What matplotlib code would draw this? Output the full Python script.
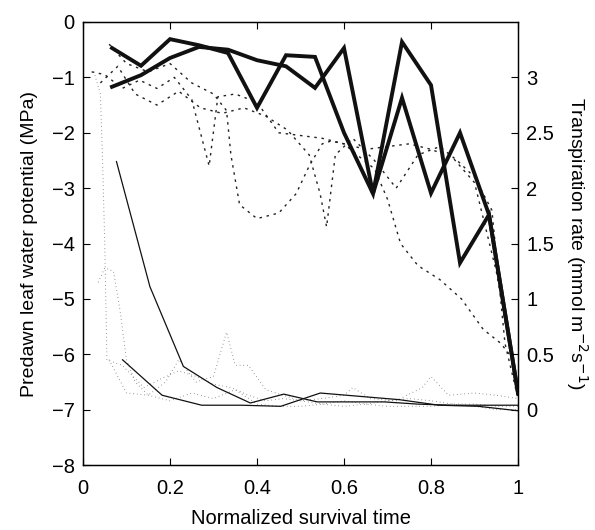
import matplotlib
matplotlib.use("Agg")
import matplotlib.pyplot as plt
import numpy as np

plt.rcParams["font.family"] = ["Liberation Sans", "DejaVu Sans"]

# ── Dados: potencial hídrico (MPa), linhas grossas ─────────────
x_psi = [1/15, 2/15, 3/15, 4/15, 5/15, 6/15, 7/15, 8/15, 9/15, 10/15,
         11/15, 12/15, 13/15, 14/15, 1.0]
psi_a = [-0.47, -0.79, -0.31, -0.42, -0.56, -1.55, -0.6, -0.63, -2.0, -3.1,
         -0.36, -1.14, -4.35, -3.48, -6.7]
psi_b = [-1.17, -0.96, -0.65, -0.45, -0.5, -0.69, -0.8, -1.19, -0.47, -3.1,
         -1.37, -3.09, -2.0, -3.48, -6.7]

# limites (tracejados) do potencial hídrico
x_lim1 = [0.02, 0.05, 0.09, 0.13, 0.17, 0.21, 0.25, 0.27, 0.29, 0.31, 0.35,
          0.40, 0.45, 0.50, 0.55, 0.60, 0.65, 0.70, 0.75, 0.80, 0.85, 0.90,
          0.95, 1.0]
lim1 = [-0.9, -0.95, -1.2, -1.05, -1.2, -1.0, -1.4, -2.0, -2.6, -1.35, -1.3,
        -1.45, -2.0, -2.05, -2.1, -2.2, -2.3, -2.25, -2.2, -2.3, -2.45, -2.9,
        -4.5, -6.7]
x_lim2 = [0.06, 0.10, 0.15, 0.20, 0.25, 0.30, 0.33, 0.34, 0.36, 0.40, 0.45,
          0.49, 0.52, 0.55, 0.57, 0.60, 0.63, 0.67, 0.70, 0.73, 0.77, 0.82,
          0.87, 0.92, 0.96, 0.98]
lim2 = [-0.4, -0.75, -0.9, -0.75, -1.1, -1.3, -1.6, -2.4, -3.3, -3.55, -3.45,
        -3.1, -2.6, -2.2, -2.15, -2.2, -2.4, -2.65, -3.2, -4.0, -4.4, -4.65,
        -5.0, -5.55, -5.8, -6.0]
x_lim3 = [0.04, 0.08, 0.12, 0.17, 0.22, 0.27, 0.32, 0.37, 0.42, 0.47, 0.52,
          0.545, 0.56, 0.58, 0.62, 0.67, 0.72, 0.77, 0.82, 0.86, 0.90, 0.94,
          0.97, 1.0]
lim3 = [-1.1, -0.8, -1.3, -1.5, -1.25, -1.55, -1.65, -1.55, -1.7, -1.95, -2.4,
        -3.1, -3.7, -2.4, -2.1, -2.5, -3.0, -2.4, -2.25, -2.5, -2.8, -3.4,
        -5.8, -6.8]

# ── Dados: transpiração (mmol m-2 s-1), linhas finas ───────────
x_tr1 = [1/13, 2/13, 3/13, 4/13, 5/13, 6/13, 7/13, 8/13, 9/13, 10/13,
         11/13, 12/13, 1.0]
tr1 = [2.24, 1.11, 0.39, 0.2, 0.06, 0.14, 0.07, 0.07, 0.07, 0.05, 0.04,
       0.04, 0.04]
x_tr2 = [1/11, 2/11, 3/11, 4/11, 5/11, 6/11, 7/11, 8/11, 9/11, 10/11, 1.0]
tr2 = [0.45, 0.13, 0.04, 0.04, 0.03, 0.15, 0.12, 0.09, 0.04, 0.03, -0.01]

# limites (pontilhados) da transpiração
x_tl1 = [0.025, 0.04, 0.045, 0.05, 0.055, 0.09, 0.14, 0.18, 0.22, 0.26, 0.30,
         0.34, 0.38, 0.42, 0.46, 0.50, 0.55, 0.60, 0.65, 0.70, 0.75, 0.80,
         0.85, 0.90, 0.95, 1.0]
tl1 = [3.05, 2.85, 2.25, 1.5, 0.45, 0.4, 0.2, 0.28, 0.35, 0.3, 0.23, 0.2,
       0.13, 0.08, 0.1, 0.08, 0.05, 0.08, 0.05, 0.08, 0.1, 0.08, 0.05, 0.05,
       0.03, 0.03]
x_tl2 = [0.035, 0.05, 0.07, 0.085, 0.10, 0.12, 0.15, 0.19, 0.22, 0.26, 0.30,
         0.33, 0.35, 0.38, 0.42, 0.46, 0.50, 0.55, 0.60, 0.62, 0.66, 0.72,
         0.78, 0.80, 0.84, 0.90, 0.95, 1.0]
tl2 = [1.15, 1.28, 1.25, 0.9, 0.45, 0.25, 0.13, 0.25, 0.45, 0.25, 0.3, 0.7,
       0.4, 0.4, 0.18, 0.13, 0.08, 0.1, 0.13, 0.2, 0.1, 0.08, 0.2, 0.3, 0.13,
       0.15, 0.13, 0.1]
x_tl3 = [0.06, 0.10, 0.15, 0.20, 0.25, 0.30, 0.35, 0.40, 0.45, 0.50, 0.55,
         0.60, 0.65, 0.70, 0.75, 0.80, 0.85, 0.90, 0.95, 1.0]
tl3 = [0.45, 0.15, 0.13, 0.08, 0.15, 0.1, 0.18, 0.05, 0.03, 0.03, 0.05, 0.03,
       0.05, 0.03, 0.03, 0.03, 0.05, 0.03, 0.0, 0.0]

# ── Figura ─────────────────────────────────────────────────────
fig = plt.figure(figsize=(5.95, 5.3), dpi=100)
ax = fig.add_axes([0.1395, 0.1226, 0.7311, 0.8359])
ax2 = ax.twinx()

tracejado = dict(color="#222222", lw=1.0, linestyle=(0, (1.8, 3.4)))
for xs, ys in [(x_lim1, lim1), (x_lim2, lim2), (x_lim3, lim3)]:
    ax.plot(xs, ys, **tracejado)
ax.plot(x_psi, psi_a, color="#111111", lw=2.8, solid_joinstyle="miter")
ax.plot(x_psi, psi_b, color="#111111", lw=2.8, solid_joinstyle="miter")

pontilhado = dict(color="#555555", lw=0.7, linestyle=(0, (0.6, 3.2)))
for xs, ys in [(x_tl1, tl1), (x_tl2, tl2), (x_tl3, tl3)]:
    ax2.plot(xs, ys, **pontilhado)
ax2.plot(x_tr1, tr1, color="#111111", lw=0.9)
ax2.plot(x_tr2, tr2, color="#111111", lw=0.9)

ax.set_xlim(0, 1)
ax.set_ylim(-8, 0)
ax2.set_ylim(-0.5, 3.5)
ax.set_xticks([0, 0.2, 0.4, 0.6, 0.8, 1])
ax.set_xticklabels(["0", "0.2", "0.4", "0.6", "0.8", "1"])
ax.set_yticks(range(-8, 1))
ax2.set_yticks([0, 0.5, 1, 1.5, 2, 2.5, 3])
ax2.set_yticklabels(["0", "0.5", "1", "1.5", "2", "2.5", "3"])

ax.tick_params(axis="both", direction="in", length=5, labelsize=14.5,
               top=True, right=False, width=0.8)
ax.tick_params(axis="x", pad=10)
ax.tick_params(axis="y", pad=6)
ax2.tick_params(axis="y", direction="in", length=5, labelsize=14.5,
                width=0.8, pad=6)

ax.set_xlabel("Normalized survival time", fontsize=14.5, labelpad=8)
ax.set_ylabel("Predawn leaf water potential (MPa)", fontsize=14, labelpad=10)
ax2.set_ylabel("Transpiration rate (mmol m$^{-2}$s$^{-1}$)", fontsize=14,
               rotation=270, labelpad=26)

for a in (ax, ax2):
    for s in a.spines.values():
        s.set_linewidth(0.9)

fig.savefig("out.png", dpi=100)
